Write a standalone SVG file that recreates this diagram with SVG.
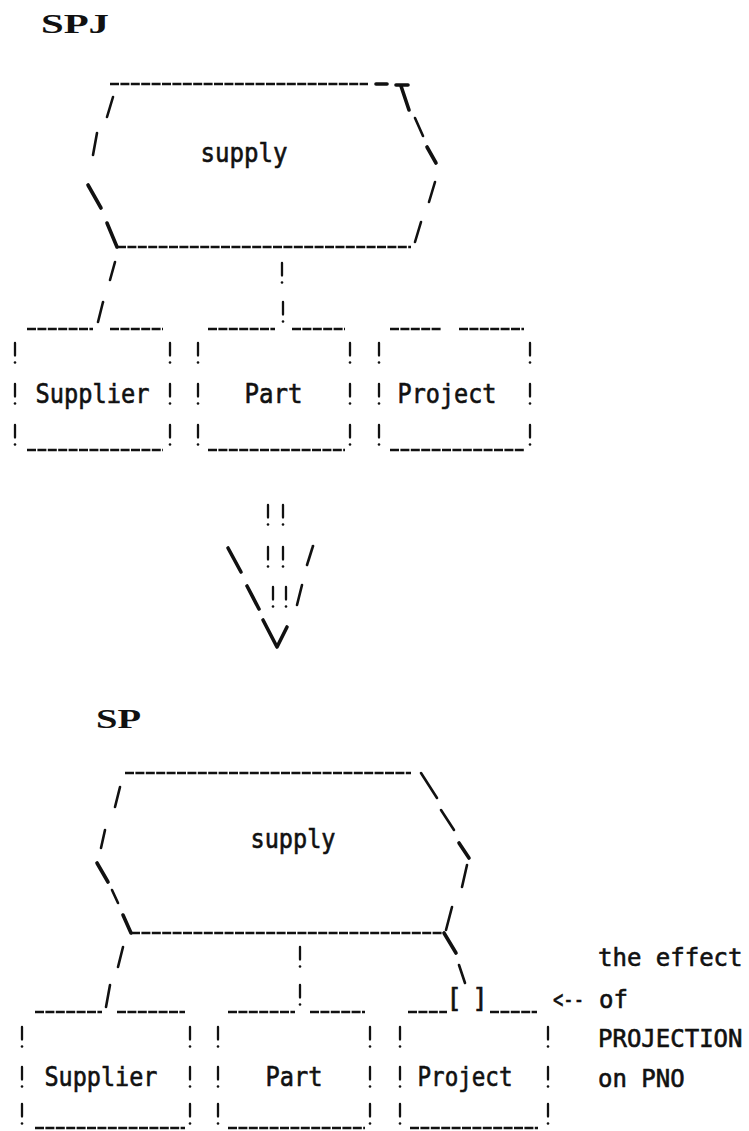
<svg xmlns="http://www.w3.org/2000/svg" xmlns:xlink="http://www.w3.org/1999/xlink" width="749" height="1131" viewBox="0 0 749 1131">
<style>
.ln{stroke:#111;stroke-width:2.4;fill:none;stroke-dasharray:9 1.4}
.sl{stroke:#111;stroke-width:2.6;fill:none;stroke-linecap:round}
.tk{stroke:#111;stroke-width:3.6;fill:none;stroke-linecap:round;stroke-linejoin:round}
.lbl{font-family:"DejaVu Sans Mono","Liberation Mono",monospace;font-size:26px;fill:#111;stroke:#111;stroke-width:0.6}
.nt{font-family:"DejaVu Sans Mono","Liberation Mono",monospace;font-size:24px;fill:#111;stroke:#111;stroke-width:0.6}
.ttl{font-family:"Liberation Serif","DejaVu Serif",serif;font-size:27px;font-weight:bold;fill:#111}
</style>
<defs>
<g id="bang"><line x1="0" y1="0" x2="0" y2="12.5" stroke="#111" stroke-width="2.3" stroke-linecap="round"/><circle cx="0" cy="19.5" r="1.3" fill="#111"/></g>
</defs>
<rect width="749" height="1131" fill="#fff"/>

<g id="title-spj"><text class="ttl" x="41" y="33" textLength="68" lengthAdjust="spacingAndGlyphs">SPJ</text></g>

<g id="supply-spj">
<line class="ln" x1="110" y1="84" x2="368" y2="84"/>
<line class="tk" x1="376" y1="84" x2="387" y2="84"/>
<path class="tk" d="M396,85 H408 M401,86 L409,110"/>
<line class="sl" x1="415" y1="118" x2="423" y2="136"/>
<line class="tk" x1="427" y1="147" x2="436" y2="163"/>
<line class="sl" x1="435" y1="182" x2="429" y2="202"/>
<line class="sl" x1="421" y1="222" x2="415" y2="242"/>
<line class="ln" x1="117" y1="247" x2="411" y2="247"/>
<line class="sl" x1="113" y1="97" x2="107" y2="117"/>
<line class="sl" x1="97" y1="133" x2="93" y2="155"/>
<line class="tk" x1="88" y1="185" x2="101" y2="208"/>
<line class="tk" x1="107" y1="223" x2="117" y2="247"/>
<text class="lbl" x="200.5" y="162" textLength="87" lengthAdjust="spacingAndGlyphs">supply</text>
</g>

<g id="supplier-spj">
<line class="ln" x1="27" y1="329" x2="93" y2="329"/>
<line class="ln" x1="110" y1="329" x2="163" y2="329"/>
<use xlink:href="#bang" x="15" y="343"/><use xlink:href="#bang" x="15" y="384"/><use xlink:href="#bang" x="15" y="425"/>
<use xlink:href="#bang" x="170" y="343"/><use xlink:href="#bang" x="170" y="384"/><use xlink:href="#bang" x="170" y="425"/>
<line class="ln" x1="27" y1="450" x2="163" y2="450"/>
<text class="lbl" x="35.5" y="403" textLength="114" lengthAdjust="spacingAndGlyphs">Supplier</text>
</g>

<g id="part-spj">
<line class="ln" x1="208" y1="329" x2="275" y2="329"/>
<line class="ln" x1="292" y1="329" x2="345" y2="329"/>
<use xlink:href="#bang" x="198" y="343"/><use xlink:href="#bang" x="198" y="384"/><use xlink:href="#bang" x="198" y="425"/>
<use xlink:href="#bang" x="350" y="343"/><use xlink:href="#bang" x="350" y="384"/><use xlink:href="#bang" x="350" y="425"/>
<line class="ln" x1="208" y1="450" x2="345" y2="450"/>
<text class="lbl" x="244.5" y="403" textLength="58" lengthAdjust="spacingAndGlyphs">Part</text>
</g>

<g id="project-spj">
<line class="ln" x1="390" y1="329" x2="441" y2="329"/>
<line class="ln" x1="459" y1="329" x2="524" y2="329"/>
<use xlink:href="#bang" x="379" y="343"/><use xlink:href="#bang" x="379" y="384"/><use xlink:href="#bang" x="379" y="425"/>
<use xlink:href="#bang" x="530" y="343"/><use xlink:href="#bang" x="530" y="384"/><use xlink:href="#bang" x="530" y="425"/>
<line class="ln" x1="390" y1="450" x2="525" y2="450"/>
<text class="lbl" x="397.5" y="403" textLength="99" lengthAdjust="spacingAndGlyphs">Project</text>
</g>

<g id="arrow">
<use xlink:href="#bang" x="268" y="505"/><use xlink:href="#bang" x="283" y="505"/>
<use xlink:href="#bang" x="268" y="547"/><use xlink:href="#bang" x="283" y="547"/>
<use xlink:href="#bang" x="273" y="587"/><use xlink:href="#bang" x="286" y="587"/>
<line class="tk" x1="228" y1="548" x2="241" y2="572"/>
<line class="sl" x1="313" y1="546" x2="307" y2="565"/>
<line class="tk" x1="247" y1="586" x2="259" y2="609"/>
<line class="sl" x1="302" y1="585" x2="297" y2="605"/>
<polyline class="tk" points="263,620 277,647 287,627"/>
</g>

<g id="title-sp"><text class="ttl" x="96" y="728" textLength="45" lengthAdjust="spacingAndGlyphs">SP</text></g>

<g id="supply-sp">
<line class="ln" x1="125" y1="773" x2="411" y2="773"/>
<line class="sl" x1="421" y1="773" x2="437" y2="798"/>
<line class="sl" x1="441" y1="810" x2="454" y2="830"/>
<line class="tk" x1="459" y1="843" x2="469" y2="858"/>
<line class="sl" x1="467" y1="865" x2="462" y2="887"/>
<line class="sl" x1="452" y1="907" x2="446" y2="930"/>
<line class="ln" x1="131" y1="933" x2="444" y2="933"/>
<line class="sl" x1="120" y1="787" x2="115" y2="807"/>
<line class="sl" x1="105" y1="830" x2="101" y2="848"/>
<line class="tk" x1="97" y1="863" x2="108" y2="882"/>
<line class="sl" x1="112" y1="890" x2="118" y2="903"/>
<line class="tk" x1="123" y1="915" x2="131" y2="933"/>
<text class="lbl" x="250.5" y="848" textLength="85" lengthAdjust="spacingAndGlyphs">supply</text>
</g>

<g id="supplier-sp">
<line class="ln" x1="35" y1="1012" x2="102" y2="1012"/>
<line class="ln" x1="117" y1="1012" x2="185" y2="1012"/>
<use xlink:href="#bang" x="22" y="1027"/><use xlink:href="#bang" x="22" y="1067"/><use xlink:href="#bang" x="22" y="1104"/>
<use xlink:href="#bang" x="190" y="1027"/><use xlink:href="#bang" x="190" y="1067"/><use xlink:href="#bang" x="190" y="1104"/>
<line class="ln" x1="35" y1="1128" x2="185" y2="1128"/>
<text class="lbl" x="44.5" y="1086" textLength="113" lengthAdjust="spacingAndGlyphs">Supplier</text>
</g>

<g id="part-sp">
<line class="ln" x1="228" y1="1012" x2="295" y2="1012"/>
<line class="ln" x1="310" y1="1012" x2="365" y2="1012"/>
<use xlink:href="#bang" x="218" y="1027"/><use xlink:href="#bang" x="218" y="1067"/><use xlink:href="#bang" x="218" y="1104"/>
<use xlink:href="#bang" x="370" y="1027"/><use xlink:href="#bang" x="370" y="1067"/><use xlink:href="#bang" x="370" y="1104"/>
<line class="ln" x1="228" y1="1128" x2="365" y2="1128"/>
<text class="lbl" x="265.5" y="1086" textLength="57" lengthAdjust="spacingAndGlyphs">Part</text>
</g>

<g id="project-sp">
<line class="ln" x1="408" y1="1012" x2="447" y2="1012"/>
<text class="lbl" x="454" y="1007" text-anchor="middle">[</text>
<text class="lbl" x="480" y="1007" text-anchor="middle">]</text>
<line class="ln" x1="490" y1="1012" x2="537" y2="1012"/>
<use xlink:href="#bang" x="400" y="1027"/><use xlink:href="#bang" x="400" y="1067"/><use xlink:href="#bang" x="400" y="1104"/>
<use xlink:href="#bang" x="548" y="1027"/><use xlink:href="#bang" x="548" y="1067"/><use xlink:href="#bang" x="548" y="1104"/>
<line class="ln" x1="410" y1="1128" x2="538" y2="1128"/>
<text class="lbl" x="417.5" y="1086" textLength="95" lengthAdjust="spacingAndGlyphs">Project</text>
</g>

<g id="connectors">
<line class="sl" x1="115" y1="262" x2="110" y2="280"/>
<line class="sl" x1="103" y1="302" x2="98" y2="322"/>
<use xlink:href="#bang" x="282" y="263"/><use xlink:href="#bang" x="283" y="302"/>
<line class="sl" x1="123" y1="947" x2="118" y2="967"/>
<line class="sl" x1="110" y1="985" x2="106" y2="1007"/>
<use xlink:href="#bang" x="300" y="947"/><use xlink:href="#bang" x="300" y="985"/>
<line class="tk" x1="444" y1="933" x2="456" y2="953"/>
<line class="sl" x1="459" y1="965" x2="465" y2="983"/>
</g>

<g id="note">
<text class="nt" x="598" y="966">the effect</text>
<text class="nt" x="553" y="1008" textLength="31" lengthAdjust="spacingAndGlyphs">&lt;--</text>
<text class="nt" x="599" y="1008">of</text>
<text class="nt" x="598" y="1047">PROJECTION</text>
<text class="nt" x="598" y="1087">on PNO</text>
</g>
</svg>
